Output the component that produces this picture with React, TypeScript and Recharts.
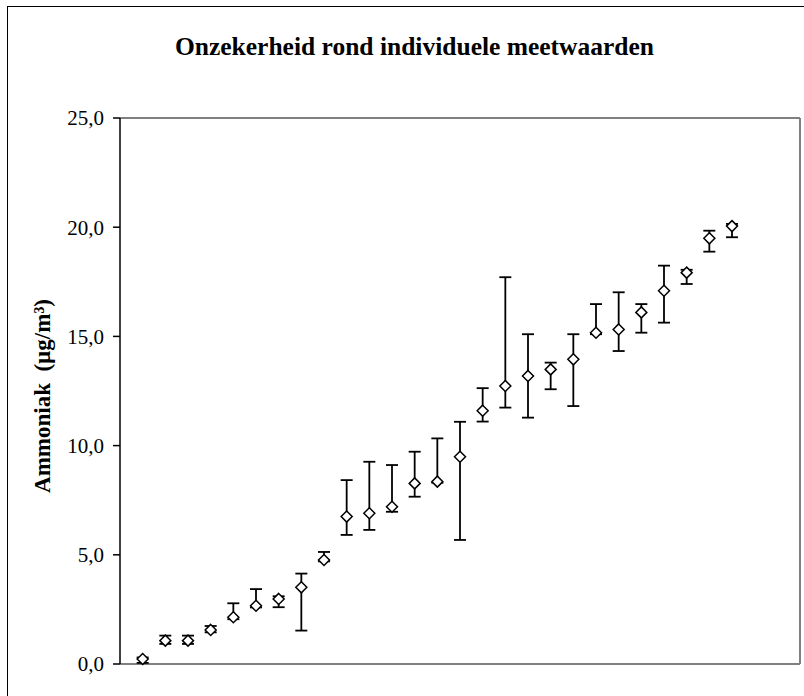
import React from 'react';
import { ComposedChart, Scatter, ErrorBar, XAxis, YAxis, ReferenceLine } from 'recharts';

const positions = [1,2,3,4,5,6,7,8,9,10,11,12,13,14,15,16,17,18,19,20,21,22,23,24,25,26,27];
const values = [0.23,1.07,1.07,1.56,2.14,2.67,2.98,3.51,4.76,6.75,6.90,7.20,8.27,8.35,9.49,11.60,12.73,13.19,13.49,13.95,15.17,15.32,16.10,17.09,17.92,19.49,20.05];
const lowerBounds = [0.05,0.92,0.92,1.45,2.05,2.59,2.60,1.53,4.70,5.91,6.14,6.97,7.66,8.30,5.68,11.10,11.74,11.28,12.58,11.81,15.10,14.33,15.17,15.63,17.40,18.88,19.54];
const upperBounds = [0.30,1.30,1.30,1.74,2.78,3.43,3.10,4.14,5.13,8.42,9.26,9.11,9.72,10.33,11.09,12.63,17.71,15.10,13.80,15.10,16.48,17.02,16.48,18.24,18.05,19.84,20.15];
const yTicks = [0, 5, 10, 15, 20, 25];

const data = positions.map((x, i) => ({
  x,
  y: values[i],
  err: [values[i] - lowerBounds[i], upperBounds[i] - values[i]],
}));

const serif = '"Liberation Serif", "Times New Roman", serif';

const Diamond = (props: any) => {
  const { cx, cy } = props;
  const r = 5.5;
  return (
    <polygon
      points={`${cx},${cy - r} ${cx + r},${cy} ${cx},${cy + r} ${cx - r},${cy}`}
      fill="#ffffff"
      stroke="#000000"
      strokeWidth={1.5}
    />
  );
};

export default function App() {
  return (
    <div style={{ position: 'absolute', left: 0, top: 0, width: 804, height: 696, background: '#fff', overflow: 'hidden' }}>
      <div style={{ position: 'absolute', left: 7, top: 6, width: 820, height: 720, borderLeft: '1.5px solid #000', borderTop: '1.5px solid #000' }} />
      <div style={{ position: 'absolute', left: 0, top: 31.5, width: 829, textAlign: 'center', fontFamily: serif, fontWeight: 'bold', fontSize: 25.5, lineHeight: 'normal', color: '#000', whiteSpace: 'nowrap' }}>
        Onzekerheid rond individuele meetwaarden
      </div>
      <div style={{ position: 'absolute', left: 43, top: 396, transform: 'translate(-50%, -50%) rotate(-90deg)', whiteSpace: 'nowrap', fontFamily: serif, fontWeight: 'bold', fontSize: 23, color: '#000' }}>
        Ammoniak&nbsp; (µg/m³)
      </div>
      <div style={{ position: 'absolute', left: 0, top: 0 }}>
        <ComposedChart width={804} height={696} data={data} margin={{ top: 118, right: 4, bottom: 32, left: 0 }}>
          <XAxis dataKey="x" type="number" domain={[0, 30]} hide />
          <YAxis
            type="number"
            domain={[0, 25]}
            ticks={yTicks}
            width={120}
            tickSize={7}
            tickMargin={9}
            axisLine={{ stroke: '#000', strokeWidth: 1.5 }}
            tickLine={{ stroke: '#000', strokeWidth: 1.5 }}
            tick={{ fill: '#000', fontSize: 21, fontFamily: serif }}
            tickFormatter={(v: number) => v.toFixed(1).replace('.', ',')}
          />
          <ReferenceLine y={25} stroke="#808080" strokeWidth={2} />
          <ReferenceLine x={30} stroke="#808080" strokeWidth={2} />
          <ReferenceLine y={0} stroke="#808080" strokeWidth={2} />
          <Scatter dataKey="y" shape={<Diamond />} isAnimationActive={false}>
            <ErrorBar dataKey="err" direction="y" width={6} stroke="#000" strokeWidth={1.8} isAnimationActive={false} />
          </Scatter>
        </ComposedChart>
      </div>
    </div>
  );
}
